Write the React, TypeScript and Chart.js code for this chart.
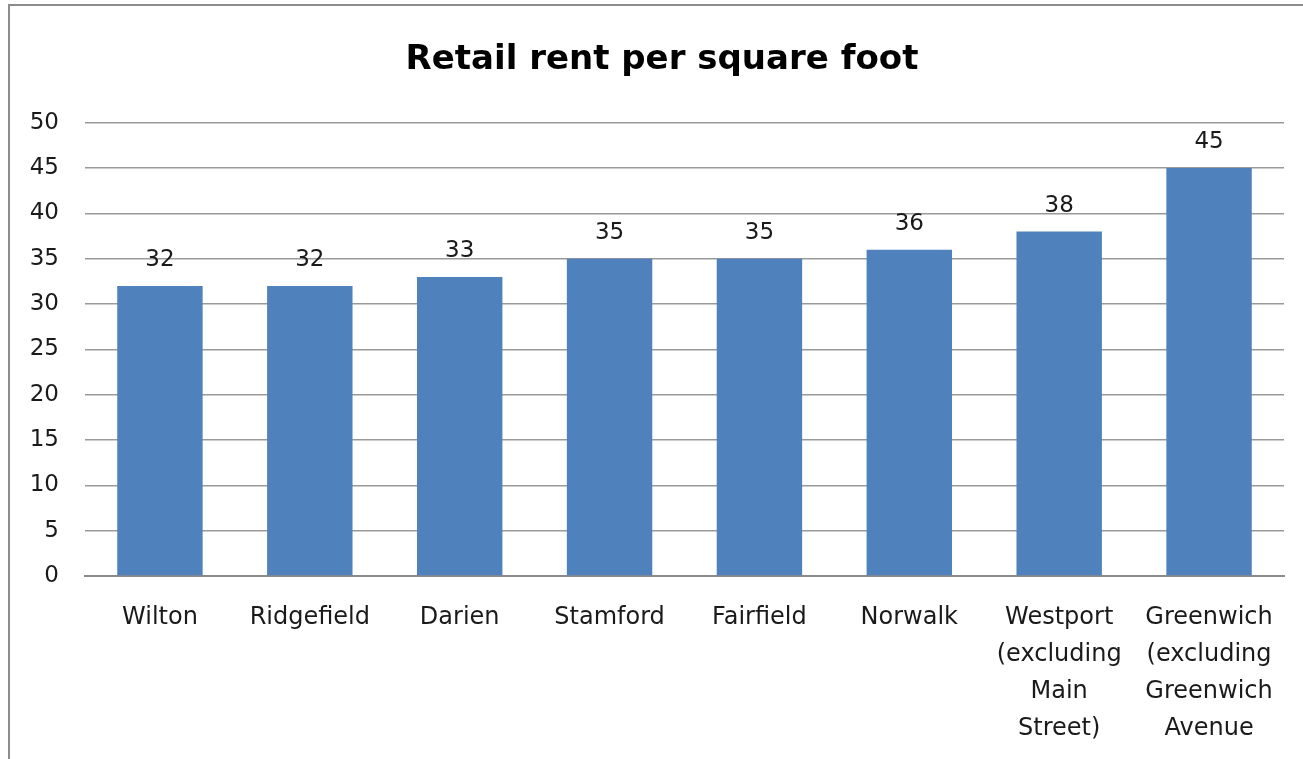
import React, { useEffect, useRef } from "react";
import { Chart, registerables } from "chart.js";

Chart.register(...registerables);

const categories: (string | string[])[] = [
  "Wilton",
  "Ridgefield",
  "Darien",
  "Stamford",
  "Fairfield",
  "Norwalk",
  ["Westport", "(excluding", "Main", "Street)"],
  ["Greenwich", "(excluding", "Greenwich", "Avenue"],
];
const rents: number[] = [32, 32, 33, 35, 35, 36, 38, 45];
const yTicks: number[] = [0, 5, 10, 15, 20, 25, 30, 35, 40, 45, 50];
const titleText = "Retail rent per square foot";

const FONT = "'DejaVu Sans', sans-serif";
const LABEL_SIZE = 23;
const CAT_SIZE = 24;

const dataLabels = {
  id: "dataLabels",
  afterDatasetsDraw(chart: any) {
    const ctx = chart.ctx;
    const meta = chart.getDatasetMeta(0);
    ctx.save();
    ctx.font = `${LABEL_SIZE}px ${FONT}`;
    ctx.fillStyle = "#1a1a1a";
    ctx.textAlign = "center";
    ctx.textBaseline = "middle";
    meta.data.forEach((bar: any, i: number) => {
      ctx.fillText(String(rents[i]), bar.x, bar.y - 26);
    });
    ctx.restore();
  },
};

export default function App() {
  const ref = useRef<HTMLCanvasElement>(null);
  useEffect(() => {
    if (!ref.current) return;
    const chart = new Chart(ref.current, {
      type: "bar",
      data: {
        labels: categories,
        datasets: [
          {
            data: rents,
            backgroundColor: "#4F81BD",
            barPercentage: 0.57,
            categoryPercentage: 1,
            yAxisID: "y",
          },
        ],
      },
      options: {
        animation: false,
        responsive: false,
        devicePixelRatio: 1,
        layout: { padding: 0 },
        plugins: {
          legend: { display: false },
          tooltip: { enabled: false },
          title: {
            display: true,
            text: titleText,
            color: "#000",
            font: { family: FONT, size: 34, weight: "bold", lineHeight: 1.2 },
            padding: { top: 34, bottom: 42 },
          },
        },
        scales: {
          y: {
            min: 0,
            max: 50,
            afterFit: (s: any) => {
              s.width = 75;
            },
            afterBuildTicks: (s: any) => {
              s.ticks = yTicks.map((v) => ({ value: v }));
            },
            ticks: {
              color: "#1a1a1a",
              padding: 26,
              font: { family: FONT, size: LABEL_SIZE },
            },
            grid: { color: "#9a9a9a", lineWidth: 1.5, drawTicks: false },
            border: { display: false },
          },
          yRight: {
            type: "linear",
            position: "right",
            min: 0,
            max: 50,
            afterFit: (s: any) => {
              s.width = 30;
            },
            ticks: { display: false },
            grid: { display: false, drawTicks: false },
            border: { display: false },
          },
          x: {
            afterFit: (s: any) => {
              s.height = 190;
            },
            ticks: {
              color: "#1a1a1a",
              padding: 23,
              maxRotation: 0,
              autoSkip: false,
              font: { family: FONT, size: CAT_SIZE, lineHeight: 37 / CAT_SIZE },
            },
            grid: { display: false, drawTicks: false },
            border: { display: true, color: "#8a8a8a", width: 2 },
          },
        },
      },
      plugins: [dataLabels],
    });
    return () => chart.destroy();
  }, []);

  return (
    <div
      style={{
        position: "absolute",
        left: 0,
        top: 0,
        width: 1303,
        height: 759,
        overflow: "hidden",
        background: "#fff",
      }}
    >
      <div
        style={{
          position: "absolute",
          left: 8,
          top: 4,
          width: 1308,
          height: 800,
          border: "2px solid #8c8c8c",
          boxSizing: "border-box",
        }}
      >
        <canvas ref={ref} width={1304} height={760} style={{ display: "block" }} />
      </div>
    </div>
  );
}
